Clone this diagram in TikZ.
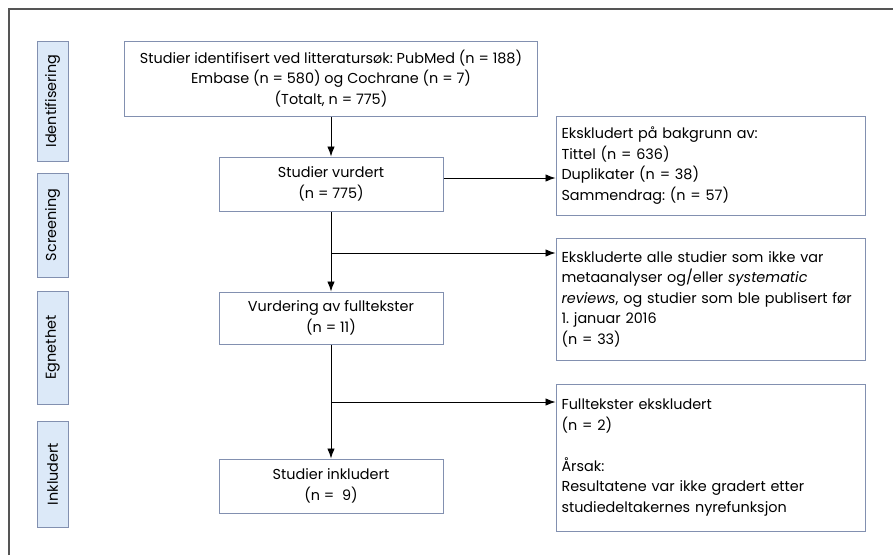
\documentclass[tikz,border=0pt]{standalone}
\usepackage{fontspec}
\setmainfont{Poppins}
\usetikzlibrary{arrows.meta}
\definecolor{rim}{HTML}{8290B0}
\definecolor{phase}{HTML}{DCE9F8}
\definecolor{frame}{HTML}{555555}
\newcommand{\txt}{\fontsize{14.4}{20.5}\selectfont\frenchspacing}

\tikzset{
  box/.style={draw=rim, line width=1pt, minimum width=224pt, minimum height=54pt,
    align=center, inner sep=0pt, font=\txt},
  note/.style={draw=rim, line width=1pt, text width=298pt, inner xsep=5.5pt,
    align=left, font=\txt},
  phaselab/.style={draw=rim, fill=phase, line width=1pt, rotate=90,
    minimum height=31pt, inner sep=0pt, font=\txt},
  arr/.style={-{Latex[length=10pt,width=7.5pt]}, line width=0.9pt}
}

\begin{document}
\begin{tikzpicture}[x=1pt, y=-1pt]
	\useasboundingbox (0,0) rectangle (894,555);
	\draw [frame, line width=1.5pt] (9,555) -- (9,9) -- (893,9);

	% phases
	\node [phaselab, minimum width=120pt] (lab1) at (52.5,101) {Identifisering};
	\node [phaselab, minimum width=104pt] (lab2) at (52.5,225) {Screening};
	\node [phaselab, minimum width=113pt] (lab3) at (52.5,347.5) {Egnethet};
	\node [phaselab, minimum width=106pt] (lab4) at (52.5,474) {Inkludert};

	% main flow
	\node [box, minimum width=413pt, minimum height=75pt] (ident) at (331,78.5)
	  {Studier identifisert ved litteratursøk: PubMed (n = 188)\\
	   Embase (n = 580) og Cochrane (n = 7)\\
	   (Totalt, n = 775)};
	\node [box] (vurdert) at (331,184) {Studier vurdert\\(n = 775)};
	\node [box, minimum height=52pt] (fulltekst) at (331,318)
	  {Vurdering av fulltekster\\(n = 11)};
	\node [box] (inkl) at (331,486) {Studier inkludert\\(n = \ 9)};

	% exclusions
	\node [note, minimum height=99pt] (excl1) at (710.5,165.5)
	  {Ekskludert på bakgrunn av:\\
	   Tittel (n = 636)\\
	   Duplikater (n = 38)\\
	   Sammendrag: (n = 57)};
	\node [note, minimum height=122pt] (excl2) at (710.5,299)
	  {Ekskluderte alle studier som ikke var\\
	   metaanalyser og/eller \textit{systematic}\\
	   \textit{reviews}, og studier som ble publisert før\\
	   1. januar 2016\\
	   (n = 33)};
	\node [note, minimum height=147pt] (excl3) at (710.5,457.5)
	  {Fulltekster ekskludert\\
	   (n = 2)\\[20.5pt]
	   Årsak:\\
	   Resultatene var ikke gradert etter\\
	   studiedeltakernes nyrefunksjon};

	\coordinate (t1) at ([yshift=6pt]vurdert.east);
	\coordinate (b1) at (331,253);
	\coordinate (b2) at (331,402);

	\draw [arr] (ident) -- (vurdert);
	\draw [arr] (vurdert) -- (fulltekst);
	\draw [arr] (fulltekst) -- (inkl);
	\draw [arr] (t1) -- (t1 -| excl1.west);
	\draw [arr] (b1) -- (b1 -| excl2.west);
	\draw [arr] (b2) -- (b2 -| excl3.west);
\end{tikzpicture}
\end{document}
